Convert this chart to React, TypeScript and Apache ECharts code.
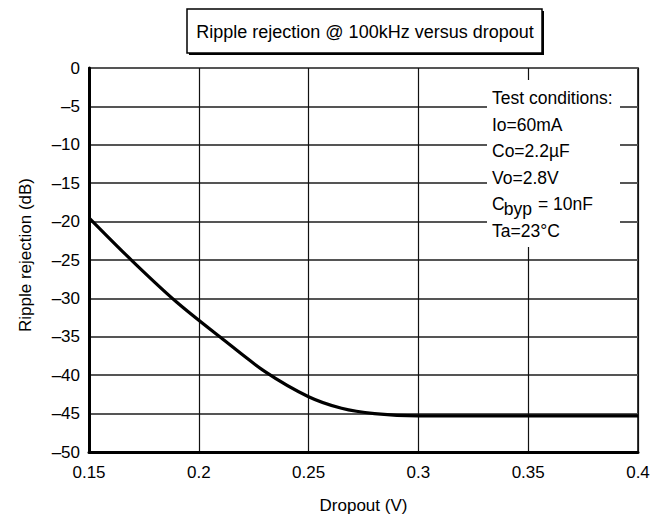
import React, { useEffect, useRef } from "react";
import * as echarts from "echarts";

const dropout = [0.15, 0.17, 0.19, 0.21, 0.23, 0.25, 0.265, 0.28, 0.3, 0.35, 0.4];
const rejection = [-19.5, -25.2, -30.5, -35.1, -39.5, -42.8, -44.3, -45.0, -45.3, -45.3, -45.3];
const titleText = "Ripple rejection @ 100kHz versus dropout";
const yName = "Ripple rejection (dB)";
const xName = "Dropout (V)";
const conditionLines = ["Test conditions:", "Io=60mA", "Co=2.2\u00b5F", "Vo=2.8V"];
const lastLine = "Ta=23\u00b0C";

const FONT = "'Liberation Sans', Arial, sans-serif";

export default function App() {
  const ref = useRef<HTMLDivElement>(null);
  useEffect(() => {
    document.body.style.margin = "0";
    document.documentElement.style.overflow = "hidden";
    const chart = echarts.init(ref.current!, null, { renderer: "svg" });
    const data = dropout.map((x, i) => [x, rejection[i]]);
    const tx = 492;
    const ty0 = 98;
    const dy = 26.5;
    const textStyle = { fill: "#000", font: `17.5px ${FONT}`, textVerticalAlign: "middle" };
    const graphics: any[] = [
      { type: "rect", z: 10, shape: { x: 189, y: 11, width: 355, height: 44 }, style: { fill: "#000" } },
      { type: "rect", z: 11, shape: { x: 187, y: 9, width: 355, height: 44 }, style: { fill: "#fff", stroke: "#000", lineWidth: 1.5 } },
      { type: "text", z: 12, x: 365, y: 32, style: { text: titleText, fill: "#000", font: `18px ${FONT}`, textAlign: "center", textVerticalAlign: "middle" } },
      { type: "rect", z: 10, shape: { x: 487, y: 80, width: 133, height: 167 }, style: { fill: "#fff" } },
      {
        type: "text",
        z: 12,
        x: 25,
        y: 255,
        rotation: Math.PI / 2,
        style: { text: yName, fill: "#000", font: `17px ${FONT}`, textAlign: "center", textVerticalAlign: "middle" },
      },
    ];
    conditionLines.forEach((t, i) => {
      graphics.push({ type: "text", z: 12, x: tx, y: ty0 + i * dy, style: { ...textStyle, text: t } });
    });
    const cy = ty0 + 4 * dy;
    graphics.push({ type: "text", z: 12, x: tx, y: cy, style: { ...textStyle, text: "C" } });
    graphics.push({ type: "text", z: 12, x: tx + 11.8, y: cy + 5, style: { ...textStyle, text: "byp" } });
    graphics.push({ type: "text", z: 12, x: tx + 46, y: cy, style: { ...textStyle, text: "= 10nF" } });
    graphics.push({ type: "text", z: 12, x: tx, y: ty0 + 5 * dy, style: { ...textStyle, text: lastLine } });

    chart.setOption({
      animation: false,
      backgroundColor: "#fff",
      grid: {
        left: 89,
        right: 12,
        top: 68,
        bottom: 63,
        outerBoundsMode: "none",
        containLabel: false,
        show: true,
        borderColor: "#000",
        borderWidth: 1.5,
      },
      xAxis: {
        type: "value",
        min: 0.15,
        max: 0.4,
        interval: 0.05,
        name: xName,
        nameLocation: "middle",
        nameGap: 45,
        nameTextStyle: { color: "#000", fontSize: 17, fontFamily: FONT },
        axisLine: { show: true, onZero: false, lineStyle: { color: "#000", width: 3 } },
        axisTick: { show: false },
        axisLabel: { color: "#000", fontSize: 17, fontFamily: FONT, margin: 12 },
        splitLine: { show: true, lineStyle: { color: "#111", width: 1.2 } },
      },
      yAxis: {
        type: "value",
        min: -50,
        max: 0,
        interval: 5,
        axisLine: { show: true, onZero: false, lineStyle: { color: "#000", width: 3 } },
        axisTick: { show: false },
        axisLabel: {
          color: "#000",
          fontSize: 17,
          fontFamily: FONT,
          margin: 9,
          formatter: (v: number) => (v < 0 ? "\u2013" + Math.abs(v) : String(v)),
        },
        splitLine: { show: true, lineStyle: { color: "#555", width: 2 } },
      },
      series: [
        {
          type: "line",
          data,
          smooth: 0.3,
          symbol: "none",
          lineStyle: { color: "#000", width: 3.2 },
          z: 5,
        },
      ],
      graphic: graphics,
    });
    return () => chart.dispose();
  }, []);
  return <div ref={ref} style={{ width: 650, height: 515, position: "absolute", left: 0, top: 0 }} />;
}
